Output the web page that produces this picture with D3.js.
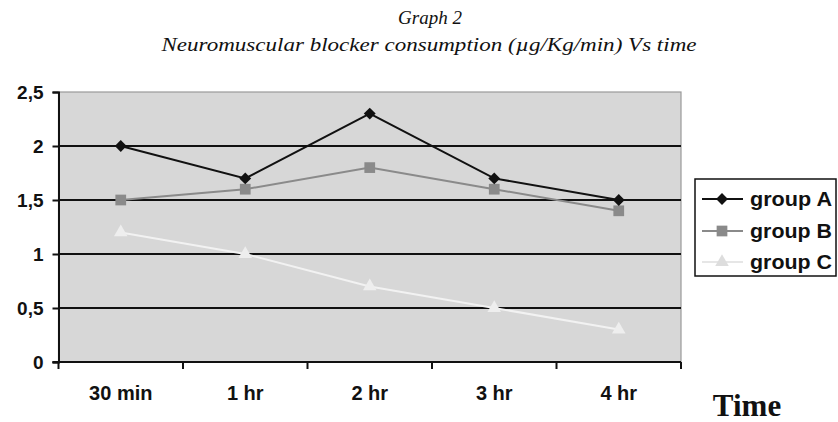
<!DOCTYPE html>
<html><head><meta charset="utf-8">
<script src="https://cdn.jsdelivr.net/npm/d3@7"></script>
<style>
body{margin:0;background:#fff}svg{display:block}
.sans{font-family:'Liberation Sans',Arial,Helvetica,sans-serif;font-weight:bold}
.serif{font-family:'Liberation Serif','Times New Roman',Times,serif}
</style>
</head><body><svg id="c" width="838" height="422"></svg>
<script>
const categories = ["30 min","1 hr","2 hr","3 hr","4 hr"];
const groupA = [2.0, 1.7, 2.3, 1.7, 1.5];
const groupB = [1.5, 1.6, 1.8, 1.6, 1.4];
const groupC = [1.2, 1.0, 0.7, 0.5, 0.3];
const yTicks = [0, 0.5, 1, 1.5, 2, 2.5];
const seriesNames = ["group A","group B","group C"];

const svg = d3.select("#c");
const L = 58.5, R = 681, T = 92, B = 362;
const x = d3.scaleBand().domain(categories).range([L, R]);
const y = d3.scaleLinear().domain([0, 2.5]).range([B, T]);

// titles
svg.append("text").attr("class","serif").attr("x", 430).attr("y", 24).attr("text-anchor","middle")
  .style("font-style","italic").style("font-size","19px").attr("fill","#111").text("Graph 2");
svg.append("text").attr("class","serif").attr("x", 429).attr("y", 51).attr("text-anchor","middle")
  .style("font-style","italic").style("font-size","19px").attr("fill","#111")
  .attr("textLength", 535).attr("lengthAdjust","spacingAndGlyphs")
  .text("Neuromuscular blocker consumption (\u00b5g/Kg/min) Vs time");

// plot background
svg.append("rect").attr("x", L).attr("y", T).attr("width", R-L).attr("height", B-T)
  .attr("fill", "#d7d7d7").attr("stroke", "#9a9a9a").attr("stroke-width", 1.2);

// gridlines
svg.append("g").selectAll("line").data(yTicks.filter(d => d > 0 && d < 2.5)).join("line")
  .attr("x1", L).attr("x2", R).attr("y1", d => y(d)).attr("y2", d => y(d))
  .attr("stroke", "#111").attr("stroke-width", 2);

// axes
const fmt = d => String(d).replace(".", ",");
const yAxis = svg.append("g").attr("transform", `translate(${L},0)`)
  .call(d3.axisLeft(y).tickValues(yTicks).tickFormat(fmt).tickSize(6).tickPadding(9));
yAxis.attr("font-family", null).attr("font-size", null);
yAxis.select(".domain").attr("stroke","#111").attr("stroke-width",2);
yAxis.selectAll(".tick line").attr("stroke","#111").attr("stroke-width",2);
yAxis.selectAll("text").attr("class","sans").style("font-size","19px").attr("fill","#111")
  .attr("dy","0.36em");

const xAxis = svg.append("g").attr("transform", `translate(0,${B})`)
  .call(d3.axisBottom(x).tickSize(0).tickPadding(24));
xAxis.attr("font-family", null).attr("font-size", null);
xAxis.select(".domain").remove();
xAxis.selectAll("text").attr("class","sans").style("font-size","20px").attr("fill","#111");
svg.append("line").attr("x1", L-6).attr("x2", R).attr("y1", B).attr("y2", B)
  .attr("stroke","#111").attr("stroke-width",2);
const bounds = categories.map(c => x(c)).concat([R]);
svg.append("g").selectAll("line").data(bounds).join("line")
  .attr("x1", d => d).attr("x2", d => d).attr("y1", B).attr("y2", B+7)
  .attr("stroke","#111").attr("stroke-width",2);

// series
const cx = c => x(c) + x.bandwidth()/2;
const styles = [
  {data: groupA, color: "#111", sym: d3.symbolSquare, rot: 45, size: 70, mcolor: "#111"},
  {data: groupB, color: "#8a8a8a", sym: d3.symbolSquare, rot: 0, size: 115, mcolor: "#8a8a8a"},
  {data: groupC, color: "#f2f2f2", sym: d3.symbolTriangle, rot: 0, size: 80, mcolor: "#eeeeee"}
];
const line = d3.line().x((d,i) => cx(categories[i])).y(d => y(d));
styles.slice().reverse().forEach(s => {
  svg.append("path").datum(s.data).attr("d", line).attr("fill","none")
    .attr("stroke", s.color).attr("stroke-width", 2);
  svg.append("g").selectAll("path").data(s.data).join("path")
    .attr("transform", (d,i) => `translate(${cx(categories[i])},${y(d)}) rotate(${s.rot})`)
    .attr("d", d3.symbol().type(s.sym).size(s.size)).attr("fill", s.mcolor);
});

// legend
const lg = svg.append("g");
lg.append("rect").attr("x", 695).attr("y", 179).attr("width", 141).attr("height", 97)
  .attr("fill","#fff").attr("stroke","#111").attr("stroke-width",1.5);
const ly = [199, 231, 262];
styles.forEach((s, i) => {
  lg.append("line").attr("x1", 702).attr("x2", 743).attr("y1", ly[i]).attr("y2", ly[i])
    .attr("stroke", i === 2 ? "#e6e6e6" : s.color).attr("stroke-width", 2);
  lg.append("path").attr("transform", `translate(722,${ly[i]}) rotate(${s.rot})`)
    .attr("d", d3.symbol().type(s.sym).size(s.size))
    .attr("fill", i === 2 ? "#dddddd" : s.mcolor);
  lg.append("text").attr("class","sans").attr("x", 750).attr("y", ly[i] + 7)
    .style("font-size","20px").attr("fill","#111")
    .attr("textLength", 82).attr("lengthAdjust","spacingAndGlyphs").text(seriesNames[i]);
});

svg.append("text").attr("class","serif").attr("x", 747).attr("y", 416).attr("text-anchor","middle")
  .style("font-weight","bold").style("font-size","31px").attr("fill","#111").text("Time");
</script></body></html>
